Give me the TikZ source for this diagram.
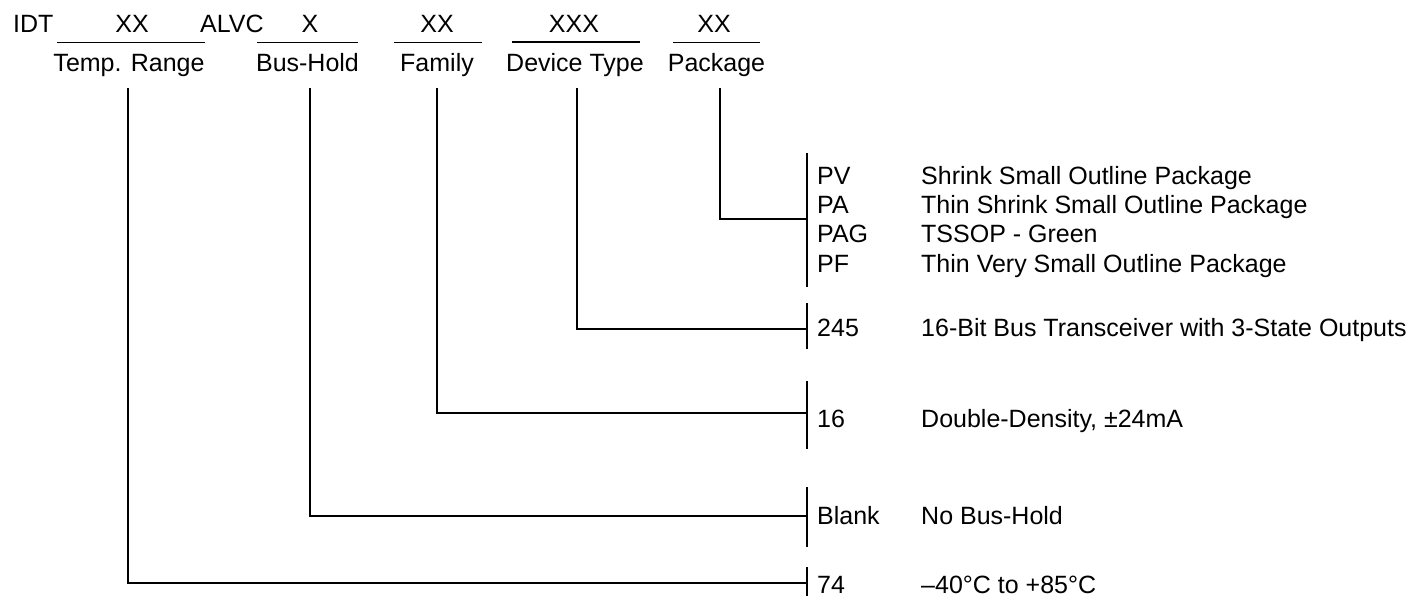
\documentclass[tikz,border=0pt]{standalone}
\usepackage{fontspec}
\setmainfont{Liberation Sans}

\begin{document}
\begin{tikzpicture}[x=1pt,y=-1pt,
    txt/.style={inner sep=0pt,anchor=base west,font=\fontsize{25}{29}\selectfont},
    ctr/.style={txt,anchor=base},
    rule/.style={line width=1.3pt},
    bracket/.style={line width=1.8pt}]
    \useasboundingbox (0,0) rectangle (1416,596);

    % Part number
    \node[txt] (idt) at (13,33) {IDT};
    \node[txt] (alvc) at (200,33) {ALVC};
    \node[ctr] (tempcode) at (132,33) {XX};
    \node[ctr] (buscode) at (310,33) {X};
    \node[ctr] (famcode) at (437,33) {XX};
    \node[ctr] (devcode) at (574,33) {XXX};
    \node[ctr] (pkgcode) at (714,33) {XX};
    \draw[rule] (57,42.5) -- (205,42.5);
    \draw[rule] (257,42.5) -- (358,42.5);
    \draw[rule] (394,42.5) -- (482,42.5);
    \draw[line width=2pt] (512,42.5) -- (640,42.5);
    \draw[rule] (673,42.5) -- (760,42.5);

    % Field names
    \node[ctr] (temp) at (129,72) {Temp. Range};
    \node[ctr] (bus) at (307.5,72) {Bus-Hold};
    \node[ctr] (fam) at (437,72) {Family};
    \node[ctr] (dev) at (575,72) {Device Type};
    \node[ctr] (pkg) at (716.5,72) {Package};

    % Leader lines
    \coordinate (tempdrop) at (128,88);
    \coordinate (busdrop) at (310,88);
    \coordinate (famdrop) at (437,88);
    \coordinate (devdrop) at (577,88);
    \coordinate (pkgdrop) at (720,88);
    \coordinate (temphook) at (807,583);
    \coordinate (bushook) at (807,516);
    \coordinate (famhook) at (807,413);
    \coordinate (devhook) at (807,329);
    \coordinate (pkghook) at (807,219);
    \draw[rule] (tempdrop) |- (temphook);
    \draw[rule] (busdrop) |- (bushook);
    \draw[rule] (famdrop) |- (famhook);
    \draw[rule] (devdrop) |- (devhook);
    \draw[rule] (pkgdrop) |- (pkghook);

    % Brackets
    \draw[bracket] (807,153) -- (807,287);
    \draw[rule] (807,303) -- (807,349);
    \draw[rule] (807,381) -- (807,449);
    \draw[bracket] (807,487) -- (807,547);
    \draw[rule] (807,567) -- (807,600);

    % Options
    \foreach \code/\desc [count=\i from 0] in {PV/Shrink Small Outline Package,
        PA/Thin Shrink Small Outline Package, PAG/TSSOP - Green,
        PF/Thin Very Small Outline Package}
    {
    \node[txt] (pkgopt\i) at (817,185+29*\i) {\code};
    \node[txt] (pkgdesc\i) at (921,185+29*\i) {\desc};
    }
    \node[txt] (devopt) at (817,336) {245};
    \node[txt] (devdesc) at (921,336) {16-Bit Bus Transceiver with 3-State Outputs};
    \node[txt] (famopt) at (817,427) {16};
    \node[txt] (famdesc) at (921,427) {Double-Density, ±24mA};
    \node[txt] (busopt) at (817,524) {Blank};
    \node[txt] (busdesc) at (921,524) {No Bus-Hold};
    \node[txt] (tempopt) at (817,593) {74};
    \node[txt] (tempdesc) at (921,593) {–40°C to +85°C};

\end{tikzpicture}
\end{document}
